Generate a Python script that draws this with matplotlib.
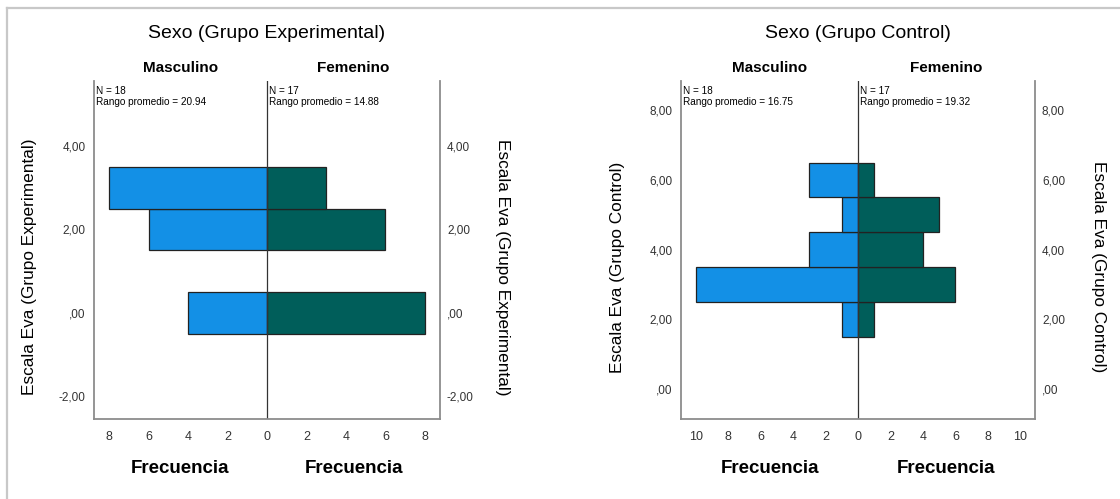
import matplotlib
matplotlib.use("Agg")
import matplotlib.pyplot as plt
from matplotlib.lines import Line2D
from matplotlib.ticker import FuncFormatter

plt.rcParams['font.family'] = ['Liberation Sans', 'DejaVu Sans']

# Experimental group
exp_values = [0, 2, 3]
exp_masc = [4, 6, 8]
exp_fem = [8, 6, 3]
exp_stats = ["N = 18\nRango promedio = 20.94", "N = 17\nRango promedio = 14.88"]
exp_yticks = [-2, 0, 2, 4]
exp_xticks = [0, 2, 4, 6, 8]

# Control group
ctl_values = [2, 3, 4, 5, 6]
ctl_masc = [1, 10, 3, 1, 3]
ctl_fem = [1, 6, 4, 5, 1]
ctl_stats = ["N = 18\nRango promedio = 16.75", "N = 17\nRango promedio = 19.32"]
ctl_yticks = [0, 2, 4, 6, 8]
ctl_xticks = [0, 2, 4, 6, 8, 10]

BLUE = '#1390e6'
TEAL = '#005e5a'
W, H = 1120, 499


def spss_num(v, pos=None):
    s = f"{v:.2f}".replace('.', ',')
    if s.startswith('0,'):
        s = s[1:]
    elif s.startswith('-0,'):
        s = '-' + s[2:]
    return s


def panel(rect, values, masc, fem, stats, yticks, xticks, xmax, ylim, title, ylabel, lx, rx):
    ax = fig.add_axes(rect)
    ax.barh(values, [-m for m in masc], height=1, color=BLUE, edgecolor='#222222', linewidth=0.9)
    ax.barh(values, fem, height=1, color=TEAL, edgecolor='#222222', linewidth=0.9)
    ax.axvline(0, color='#333333', lw=0.9)
    ax.set_xlim(-xmax, xmax)
    ax.set_ylim(*ylim)
    xt = sorted(set([-x for x in xticks] + xticks))
    ax.set_xticks(xt)
    ax.xaxis.set_major_formatter(FuncFormatter(lambda v, p: f"{abs(v):.0f}"))
    ax.set_yticks(yticks)
    ax.yaxis.set_major_formatter(FuncFormatter(spss_num))
    ax.tick_params(length=0, labelsize=8.5, colors='#333333', pad=6)
    ax.tick_params(axis='x', pad=9, labelsize=9)
    for sp in ax.spines.values():
        sp.set_color('#8c8c8c')
        sp.set_linewidth(1.3)
    ax.spines['top'].set_visible(False)
    ax.set_ylabel(ylabel, fontsize=12.4)
    ax.yaxis.set_label_coords(lx, 0.45)

    ax2 = ax.twinx()
    ax2.set_ylim(*ylim)
    ax2.set_yticks(yticks)
    ax2.yaxis.set_major_formatter(FuncFormatter(spss_num))
    ax2.tick_params(length=0, labelsize=8.5, colors='#333333', pad=5)
    for sp in ax2.spines.values():
        sp.set_visible(False)
    ax2.set_ylabel(ylabel, fontsize=12.4, rotation=270, va='center')
    ax2.yaxis.set_label_coords(rx, 0.45)

    tx = ax.get_xaxis_transform()
    ax.text(0, 1.142, title, transform=tx, ha='center', va='center', fontsize=14)
    ax.text(-xmax / 2, 1.038, 'Masculino', transform=tx, ha='center', va='center',
            fontsize=11, fontweight='bold')
    ax.text(xmax / 2, 1.038, 'Femenino', transform=tx, ha='center', va='center',
            fontsize=11, fontweight='bold')
    for x0, s in zip([-xmax, 0], stats):
        ax.text(x0 + xmax * 0.012, 0.985, s, transform=tx, ha='left', va='top',
                fontsize=7.2, linespacing=1.15)
    for xc in [-xmax / 2, xmax / 2]:
        ax.text(xc, -0.145, 'Frecuencia', transform=tx, ha='center', va='center',
                fontsize=13.5, fontweight='bold')
    return ax


fig = plt.figure(figsize=(W / 100, H / 100), dpi=100)

bottom = 1 - 419 / H
height = 338 / H
panel([94 / W, bottom, 346 / W, height], exp_values, exp_masc, exp_fem, exp_stats,
      exp_yticks, exp_xticks, 8.76, (-2.55, 5.56),
      'Sexo (Grupo Experimental)', 'Escala Eva (Grupo Experimental)', -0.165, 1.182)
panel([681 / W, bottom, 354 / W, height], ctl_values, ctl_masc, ctl_fem, ctl_stats,
      ctl_yticks, ctl_xticks, 10.9, (-0.86, 8.84),
      'Sexo (Grupo Control)', 'Escala Eva (Grupo Control)', -0.158, 1.178)

# light grey outer border (top and left)
fig.add_artist(Line2D([7 / W, 1], [1 - 8 / H, 1 - 8 / H], color='#c8c8c8', lw=1.6,
                      transform=fig.transFigure))
fig.add_artist(Line2D([7 / W, 7 / W], [0, 1 - 8 / H], color='#c8c8c8', lw=1.6,
                      transform=fig.transFigure))

fig.savefig('out.png', dpi=100)
